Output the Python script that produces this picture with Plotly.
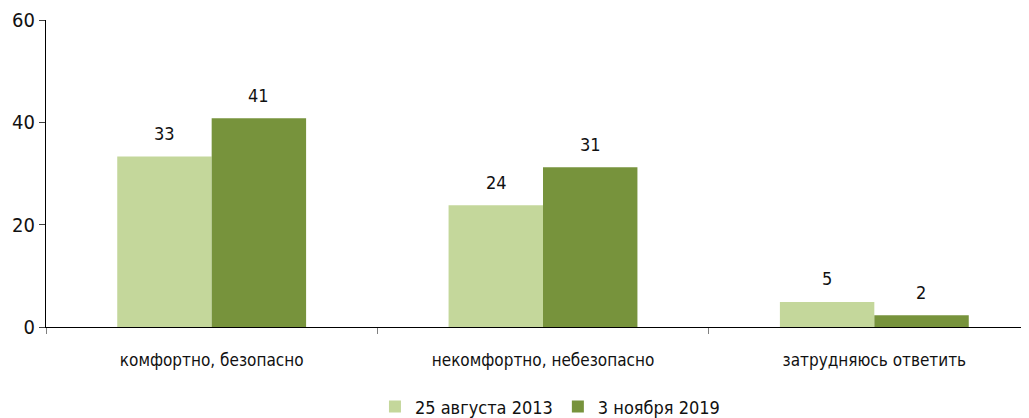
import plotly.graph_objects as go

categories = ["комфортно, безопасно", "некомфортно, небезопасно", "затрудняюсь ответить"]
series_2013 = [33.3, 23.8, 4.9]
series_2019 = [40.8, 31.2, 2.3]
labels_2013 = ["33", "24", "5"]
labels_2019 = ["41", "31", "2"]
series_names = ["25 августа 2013", "3 ноября 2019"]
y_ticks = [0, 20, 40, 60]

LIGHT = "#c4d79b"
DARK = "#77933c"
FONT = "DejaVu Sans Condensed, Liberation Sans Narrow, sans-serif"

fig = go.Figure()

fig.add_trace(go.Bar(
    x=categories, y=series_2013, name=series_names[0],
    marker=dict(color=LIGHT, line=dict(width=0)),
))
fig.add_trace(go.Bar(
    x=categories, y=series_2019, name=series_names[1],
    marker=dict(color=DARK, line=dict(width=0)),
))

# value labels above bars
for vals, labs, shift in [(series_2013, labels_2013, -47), (series_2019, labels_2019, 47)]:
    for cat, v, t in zip(categories, vals, labs):
        fig.add_annotation(
            x=cat, y=v, text=t, showarrow=False,
            xshift=shift, yshift=23,
            font=dict(size=18, color="#111111", family=FONT),
        )

# page body adds an 8px offset; plot area runs slightly past the right edge
fig.update_layout(
    width=1034, height=410,
    paper_bgcolor="white", plot_bgcolor="white",
    barmode="group", bargap=0.43, bargroupgap=0,
    margin=dict(l=38, r=2, t=12, b=91, autoexpand=False),
    font=dict(family=FONT, color="#111111"),
    showlegend=True,
    legend=dict(
        orientation="h", x=0.507, xanchor="center",
        y=-0.26, yanchor="middle",
        font=dict(size=18, family=FONT),
        traceorder="normal",
    ),
)

fig.update_xaxes(
    automargin=False,
    showline=True, linecolor="#000000", linewidth=1,
    ticks="outside", tickson="boundaries", ticklen=6, tickcolor="#808080",
    tickfont=dict(size=17, family=FONT),
    ticklabelstandoff=18,
    showgrid=False,
)
fig.update_yaxes(
    automargin=False,
    range=[0, 60], tickvals=y_ticks,
    showline=True, linecolor="#000000", linewidth=1,
    ticks="outside", ticklen=6, tickcolor="#404040",
    tickfont=dict(size=20, family=FONT),
    showgrid=False, zeroline=False,
)

fig.write_html("out.html")
